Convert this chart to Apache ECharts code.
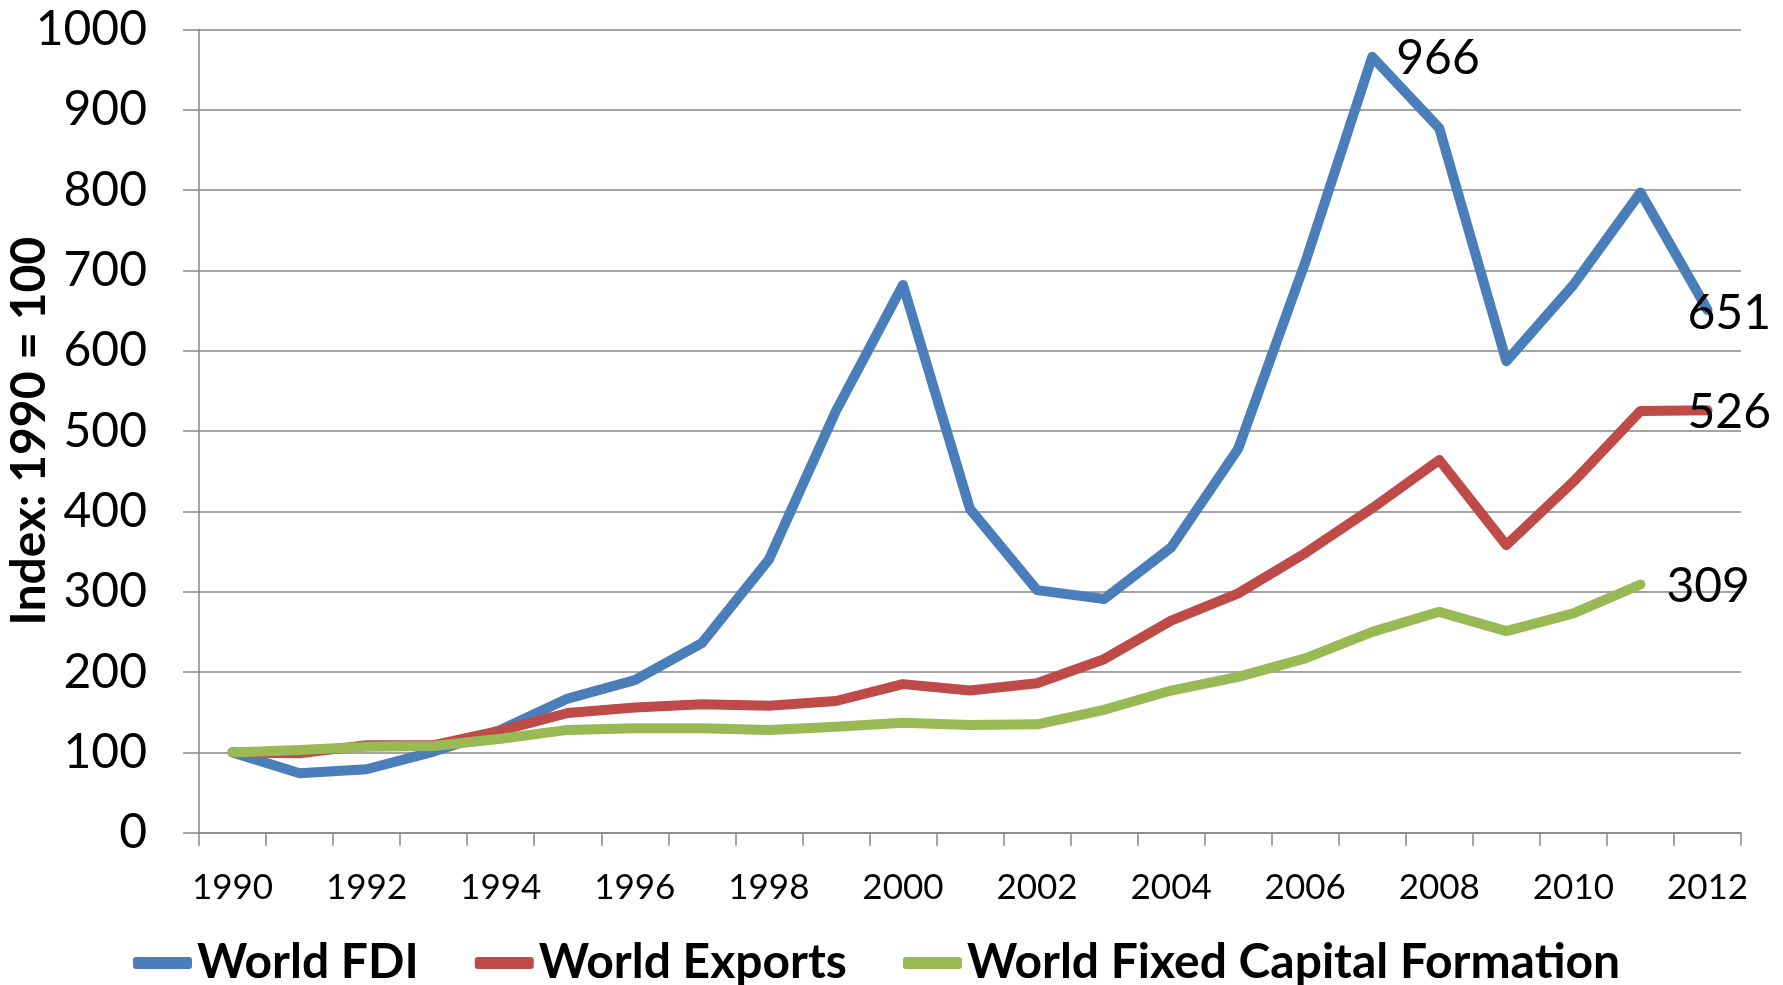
<!DOCTYPE html>
<html>
<head>
<meta charset="utf-8">
<script src="https://cdn.jsdelivr.net/npm/echarts@6/dist/echarts.min.js"></script>
<style>
html,body{margin:0;padding:0;background:#fff;}
#main{width:1783px;height:985px;}
</style>
</head>
<body>
<div id="main"></div>
<script>
var years = ['1990','1991','1992','1993','1994','1995','1996','1997','1998','1999','2000','2001','2002','2003','2004','2005','2006','2007','2008','2009','2010','2011','2012'];
var fdi = [100,74,79,101,128,167,190,236,340,525,682,403,302,291,355,478,710,966,877,587,682,797,651];
var exportsIdx = [100,99,109,109,127,149,156,160,158,164,185,177,186,216,264,298,348,404,464,358,437,525,526];
var fixedCap = [100,103,107,108,117,128,130,130,128,132,137,134,135,153,177,194,217,250,275,251,273,309];
var yTicks = {min:0, max:1000, step:100};

// which points get a value label, and its nudge
var labelled = {
	fdi: {17:[19,2], 22:[-25,4]},
	exp: {22:[-25,2]},
	fix: {21:[21,2]}
};

function withLabels(arr,marks){
	var out=[];
	for(var i=0;i<arr.length;i++){
		if(marks[i]){
			out.push({value:arr[i],label:{show:true,position:'right',offset:marks[i],
				fontFamily:'Lato',fontSize:48,color:'#000'}});
		}
		else out.push(arr[i]);
	}
	return out;
}

var myChart = echarts.init(document.getElementById('main'));
var lineW = 10;
function lineSeries(name,dat,color){
	return {
		name:name,type:'line',symbol:'circle',symbolSize:0,showSymbol:true,
		data:dat,
		itemStyle:{color:color},
		lineStyle:{width:lineW,color:color,cap:'round',join:'round'}
	};
}
var option = {
	animation:false,
	grid:{left:199,right:42,top:29.5,bottom:152.3,outerBoundsMode:'none',containLabel:false},
	legend:{
		left:128,
		top:934,
		itemWidth:59,
		itemHeight:12,
		itemGap:56,
		icon:'roundRect',
		textStyle:{fontFamily:'Lato',fontWeight:'bold',fontSize:48,color:'#000'},
		data:['World FDI','World Exports','World Fixed Capital Formation']
	},
	xAxis:{
		type:'category',
		data:years,
		boundaryGap:true,
		axisLine:{lineStyle:{color:'#868686',width:1.5}},
		axisTick:{show:true,interval:0,length:13,lineStyle:{color:'#868686',width:1.5}},
		axisLabel:{interval:1,margin:38,fontFamily:'Lato',fontSize:35,color:'#000'},
		splitLine:{show:false}
	},
	yAxis:{
		type:'value',
		min:yTicks.min,
		max:yTicks.max,
		interval:yTicks.step,
		name:'Index: 1990 = 100',
		nameLocation:'middle',
		nameGap:145,
		nameMoveOverlap:false,
		nameTextStyle:{fontFamily:'Lato',fontWeight:'bold',fontSize:48,color:'#000'},
		axisLine:{show:true,lineStyle:{color:'#868686',width:1.5}},
		axisTick:{show:true,length:16,lineStyle:{color:'#868686',width:1.5}},
		axisLabel:{margin:52,fontFamily:'Lato',fontSize:48,color:'#000',
			formatter:function(v){return String(v);}},
		splitLine:{lineStyle:{color:'#868686',width:1.5}}
	},
	series:[
		lineSeries('World FDI',withLabels(fdi,labelled.fdi),'#4A7EBB'),
		lineSeries('World Exports',withLabels(exportsIdx,labelled.exp),'#BE4B48'),
		lineSeries('World Fixed Capital Formation',withLabels(fixedCap,labelled.fix),'#98B954')
	]
};
myChart.setOption(option);
</script>
</body>
</html>
